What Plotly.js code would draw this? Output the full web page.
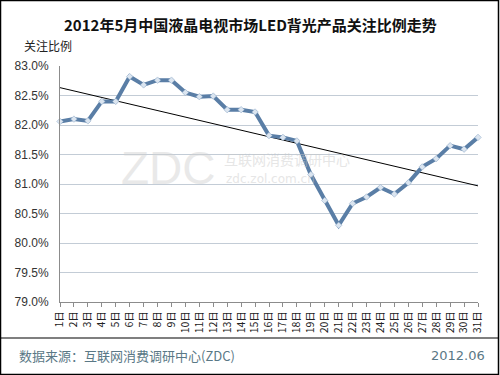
<!DOCTYPE html>
<html>
<head>
<meta charset="utf-8">
<script src="https://cdn.plot.ly/plotly-3.0.1.min.js"></script>
<style>
html,body{margin:0;padding:0;background:#fff;}
#chart{width:500px;height:375px;}
</style>
</head>
<body>
<div id="chart"></div>
<script>
const days = ["1日","2日","3日","4日","5日","6日","7日","8日","9日","10日","11日","12日","13日","14日","15日","16日","17日","18日","19日","20日","21日","22日","23日","24日","25日","26日","27日","28日","29日","30日","31日"];
const share = [82.06,82.10,82.07,82.40,82.40,82.82,82.68,82.76,82.76,82.55,82.48,82.49,82.26,82.26,82.22,81.82,81.79,81.73,81.16,80.72,80.30,80.67,80.78,80.94,80.83,81.02,81.29,81.43,81.65,81.59,81.79];
const titleText = "2012年5月中国液晶电视市场LED背光产品关注比例走势";
const yTitle = "关注比例";
const sourceText = "数据来源：互联网消费调研中心(ZDC)";
const dateText = "2012.06";
const wmBig = "ZDC";
const wmCn = "互联网消费调研中心";
const wmUrl = "zdc.zol.com.cn";

// linear trendline (least squares) like the spreadsheet's trendline
const n = share.length;
let sx=0, sy=0, sxx=0, sxy=0;
for (let i=0;i<n;i++){ sx+=i; sy+=share[i]; sxx+=i*i; sxy+=i*share[i]; }
const slope = (n*sxy - sx*sy)/(n*sxx - sx*sx);
const icpt = (sy - slope*sx)/n;
const trend = share.map((_,i)=>icpt+slope*i);

const W=500,H=375, mL=60, mR=22, mT=66, mB=73;
const pw=W-mL-mR, ph=H-mT-mB;
const px = x => (x-mL)/pw;
const py = y => (H-mB-y)/ph;

const cjk = '"Noto Sans CJK SC", "DejaVu Sans", sans-serif';

const traces = [
 {x:days, y:trend, type:'scatter', mode:'lines', line:{color:'#000', width:1}, hoverinfo:'skip', cliponaxis:false},
 {x:days, y:share, type:'scatter', mode:'lines+markers',
  line:{color:'#5a7ea6', width:4},
  marker:{symbol:'diamond', size:5, color:'#dbe5f0', line:{color:'#8aa6c4', width:0.5}},
  cliponaxis:false}
];

const layout = {
 width:W, height:H,
 margin:{l:mL, r:mR, t:mT, b:mB},
 paper_bgcolor:'#fff', plot_bgcolor:'#fff',
 showlegend:false,
 font:{family:cjk, color:'#333'},
 xaxis:{type:'category', range:[0,30], showgrid:false, zeroline:false,
   showline:true, linecolor:'#8c8c8c', linewidth:1,
   ticks:'outside', ticklen:4, tickcolor:'#8c8c8c',
   tickangle:-90, tickfont:{size:10.5, family:cjk, color:'#222'}},
 yaxis:{range:[79,83], dtick:0.5, tick0:79, tickformat:'.1f', ticksuffix:'%',
   showgrid:true, gridcolor:'#c3ccd6', gridwidth:1, zeroline:false,
   showline:true, linecolor:'#8c8c8c', linewidth:1, ticks:'', ticklabelstandoff:8,
   tickfont:{size:12, family:'"Liberation Sans", sans-serif', color:'#333'}},
 annotations:[
  {xref:'paper', yref:'paper', x:px(250), y:py(24), text:'<b>'+titleText+'</b>', showarrow:false,
   xanchor:'center', yanchor:'middle', font:{size:15, family:cjk, color:'#111'}},
  {xref:'paper', yref:'paper', x:px(22), y:py(45), text:yTitle, showarrow:false,
   xanchor:'left', yanchor:'middle', font:{size:12, family:cjk, color:'#222'}},
  {xref:'paper', yref:'paper', x:px(17), y:py(355), text:sourceText, showarrow:false,
   xanchor:'left', yanchor:'middle', font:{size:13, family:cjk, color:'#5a7886'}},
  {xref:'paper', yref:'paper', x:px(487), y:py(355), text:dateText, showarrow:false,
   xanchor:'right', yanchor:'middle', font:{size:13, family:'"DejaVu Sans", sans-serif', color:'#5a7886'}},
  {xref:'paper', yref:'paper', x:px(218), y:py(168), text:wmBig, showarrow:false,
   xanchor:'right', yanchor:'middle', opacity:0.45, font:{size:46, family:'"Liberation Sans", sans-serif', color:'#cfcfcf'}},
  {xref:'paper', yref:'paper', x:px(222), y:py(159), text:wmCn, showarrow:false,
   xanchor:'left', yanchor:'middle', opacity:0.45, font:{size:14, family:cjk, color:'#c8c8c8'}},
  {xref:'paper', yref:'paper', x:px(224), y:py(179), text:wmUrl, showarrow:false,
   xanchor:'left', yanchor:'middle', opacity:0.45, font:{size:12, family:'"DejaVu Sans", sans-serif', color:'#c8c8c8'}}
 ],
 shapes:[
  {type:'rect', xref:'paper', yref:'paper', x0:px(0.5), x1:px(498.5), y0:py(0.5), y1:py(374.5), line:{color:'#000', width:1.5}, layer:'above'},
  {type:'line', xref:'paper', yref:'paper', x0:px(0), x1:px(499), y0:py(338), y1:py(338), line:{color:'#000', width:1.2}, layer:'above'}
 ]
};

Plotly.newPlot('chart', traces, layout, {displayModeBar:false, staticPlot:true});
</script>
</body>
</html>
